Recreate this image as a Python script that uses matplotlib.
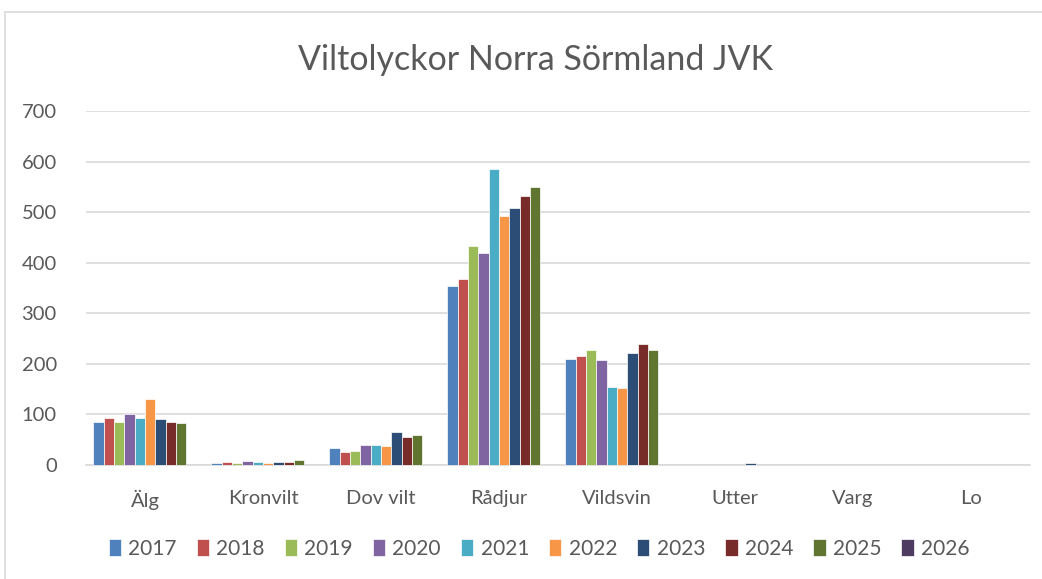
import matplotlib
matplotlib.use("Agg")
import matplotlib.pyplot as plt
from matplotlib.patches import Rectangle
import numpy as np

plt.rcParams['font.family'] = ['Lato', 'DejaVu Sans']

categories = ["Älg", "Kronvilt", "Dov vilt", "Rådjur", "Vildsvin", "Utter", "Varg", "Lo"]
years = ["2017", "2018", "2019", "2020", "2021", "2022", "2023", "2024", "2025", "2026"]

v2017 = [85, 3, 33, 354, 209, 0, 0, 0]
v2018 = [93, 5, 26, 368, 216, 0, 0, 0]
v2019 = [86, 4, 28, 434, 227, 0, 0, 0]
v2020 = [101, 8, 40, 420, 208, 0, 0, 0]
v2021 = [93, 5, 40, 585, 154, 0, 0, 0]
v2022 = [131, 3, 38, 492, 153, 0, 0, 0]
v2023 = [91, 5, 66, 508, 222, 3, 0, 0]
v2024 = [86, 5, 55, 532, 240, 0, 0, 0]
v2025 = [84, 9, 59, 549, 228, 0, 0, 0]
v2026 = [0, 0, 0, 0, 0, 0, 0, 0]
series = [v2017, v2018, v2019, v2020, v2021, v2022, v2023, v2024, v2025, v2026]

colors = ["#4F81BD", "#C0504D", "#9BBB59", "#8064A2", "#4BACC6",
          "#F79646", "#2C4D75", "#772C2A", "#5F7530", "#4D3B62"]

W, H = 1042, 579
fig = plt.figure(figsize=(W / 100, H / 100), dpi=100)
fig.patch.set_facecolor("white")

# chart frame
fig.patches.append(Rectangle((5 / W, -0.02), 1.1, 1 - 12 / H + 0.02, transform=fig.transFigure,
                             fill=False, edgecolor="#d9d9d9", linewidth=1.2))

ax = fig.add_axes([86 / W, (H - 465) / H, (1030 - 86) / W, (465 - 111) / H])
text_color = "#595959"

n = len(series)
group = 0.873
bw = group / n
x = np.arange(len(categories))
for i, (vals, col, yr) in enumerate(zip(series, colors, years)):
    offs = -group / 2 + bw * (i + 0.5)
    ax.bar(x + offs, vals, width=bw, color=col, edgecolor="white", linewidth=0.5,
           label=yr, zorder=3)

ax.set_xlim(-0.5, len(categories) - 0.5)
ax.set_ylim(0, 700)
ax.set_yticks(range(0, 701, 100))
ax.yaxis.grid(True, color="#d9d9d9", linewidth=1.2, zorder=0)
ax.set_axisbelow(True)
for s in ["top", "right", "left"]:
    ax.spines[s].set_visible(False)
ax.spines["bottom"].set_color("#d9d9d9")
ax.spines["bottom"].set_linewidth(1.2)
ax.tick_params(axis="both", length=0, colors=text_color, labelsize=14.5)
ax.tick_params(axis="y", pad=21)
ax.tick_params(axis="x", pad=18)
ax.set_xticks(x)
ax.set_xticklabels(categories)

fig.text(535 / W, 1 - 60 / H, "Viltolyckor Norra Sörmland JVK", ha="center", va="center",
         fontsize=24.5, color=text_color)

handles, labels = ax.get_legend_handles_labels()
leg = fig.legend(handles, labels, loc="center", bbox_to_anchor=(539 / W, 1 - 549 / H),
                 ncol=10, frameon=False, fontsize=15, handlelength=0.6, handleheight=0.9,
                 handletextpad=0.35, columnspacing=0.95, labelcolor=text_color)

fig.savefig("out.png", dpi=100, facecolor="white")
